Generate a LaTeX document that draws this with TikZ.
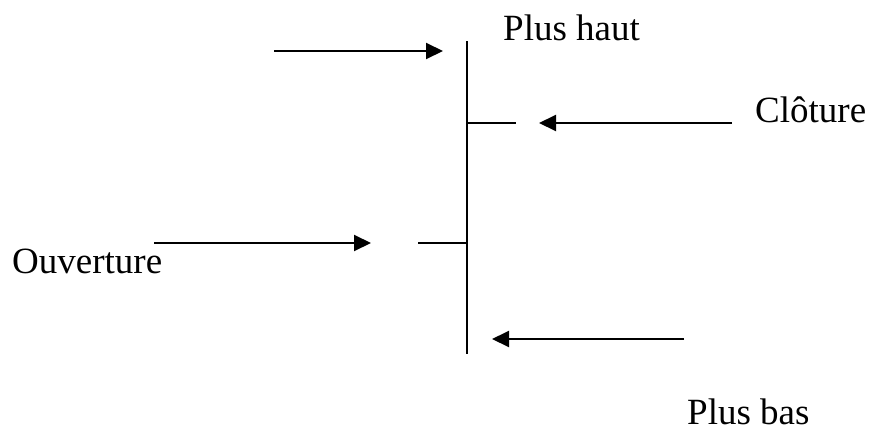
\documentclass[tikz,border=0pt]{standalone}
\usepackage{fontspec}
\setmainfont{Liberation Serif}
\usetikzlibrary{arrows.meta}
\begin{document}
\begin{tikzpicture}[x=1pt,y=-1pt,
  lbl/.style={anchor=base west,inner sep=0pt,font=\fontsize{37}{44}\selectfont},
  ln/.style={line width=2pt,black},
  arr/.style={ln,-{Triangle[length=17pt,width=16pt]}}]
\useasboundingbox (0,0) rectangle (870,434);
% bar
\coordinate (top) at (467,41);
\coordinate (bot) at (467,354);
\draw[ln] (top) -- (bot);
% ticks
\coordinate (cl) at (467,123);
\coordinate (clE) at (516,123);
\draw[ln] (cl) -- (clE);
\coordinate (op) at (467,243);
\coordinate (opW) at (418,243);
\draw[ln] (opW) -- (op);
% arrows
\coordinate (a1s) at (274,51); \coordinate (a1e) at (443,51);
\draw[arr] (a1s) -- (a1e);
\coordinate (a2s) at (732,123); \coordinate (a2e) at (539,123);
\draw[arr] (a2s) -- (a2e);
\coordinate (a3s) at (154,243); \coordinate (a3e) at (371,243);
\draw[arr] (a3s) -- (a3e);
\coordinate (a4s) at (684,339); \coordinate (a4e) at (492,339);
\draw[arr] (a4s) -- (a4e);
% labels
\node[lbl] (haut) at (503,40) {Plus haut};
\node[lbl] (clot) at (755,122) {Clôture};
\node[lbl] (ouv) at (12,273) {Ouverture};
\node[lbl] (bas) at (687,424) {Plus bas};
\end{tikzpicture}
\end{document}
